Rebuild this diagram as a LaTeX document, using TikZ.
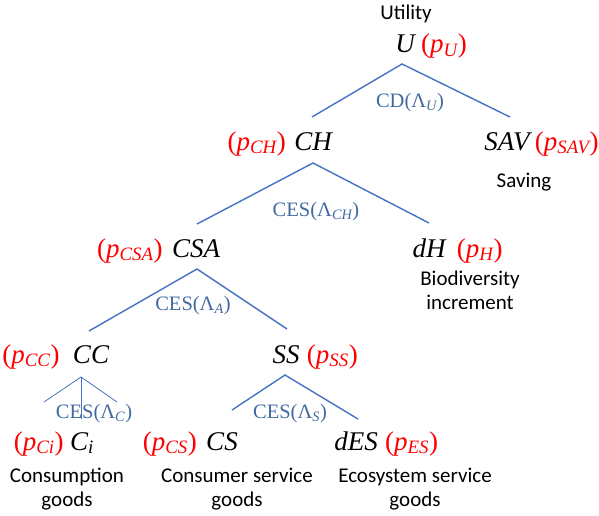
\documentclass[tikz,border=0pt]{standalone}
\usepackage{fontspec}
\setmainfont{Liberation Serif}
\newfontfamily\carlito{Carlito}
\usetikzlibrary{positioning}
\definecolor{cLine}{RGB}{68,114,196}
\definecolor{cFn}{RGB}{65,105,160}
\definecolor{cPrice}{RGB}{255,0,0}
\newcommand{\pvar}[1]{(\textit{p}\textsubscript{\itshape #1})}
\tikzset{
	var/.style   ={inner sep=0pt, font=\fontsize{27}{32}\selectfont\itshape},
	price/.style ={inner sep=0pt, text=cPrice, font=\fontsize{27}{32}\selectfont},
	fn/.style    ={inner sep=0pt, anchor=base, text=cFn, font=\fontsize{20.5}{24}\selectfont},
	lbl/.style   ={inner sep=0pt, anchor=base, align=center, font=\carlito\fontsize{21}{24}\selectfont},
	branch/.style={draw=cLine, line width=1.4pt},
	thinbranch/.style={draw=cLine, line width=0.8pt},
}
\begin{document}
\begin{tikzpicture}[x=1pt, y=-1pt]
	\useasboundingbox (0,0) rectangle (599,516);
	% top level
	\node[lbl] (util) at (406,20) {Utility};
	\node[var, anchor=base] (U) at (405,53) {U};
	\node[price, base right=6pt of U] (pU) {\pvar{U}};
	\coordinate (uTop) at (402,64);
	\coordinate (uL) at (312,117);
	\coordinate (uR) at (510,117);
	\draw[branch] (uL) -- (uTop) -- (uR);
	\node[fn] (fnU) at (410,107) {CD(Λ\textsubscript{\itshape U})};
	% second level
	\node[var, anchor=base] (CH) at (313,150) {CH};
	\node[price, base left=8pt of CH] (pCH) {\pvar{CH}};
	\node[var, anchor=base] (SAV) at (507,150) {SAV};
	\node[price, base right=5pt of SAV] (pSAV) {\pvar{SAV}};
	\node[lbl] (saving) at (524,187) {Saving};
	\coordinate (chTop) at (313,163);
	\coordinate (chL) at (197,224);
	\coordinate (chR) at (429,223);
	\draw[branch] (chL) -- (chTop) -- (chR);
	\node[fn] (fnCH) at (316,216) {CES(Λ\textsubscript{\itshape CH})};
	% third level
	\node[var, anchor=base] (CSA) at (196,257) {CSA};
	\node[price, base left=9pt of CSA] (pCSA) {\pvar{CSA}};
	\node[var, anchor=base] (dH) at (429,257) {dH};
	\node[price, base right=11pt of dH] (pH) {\pvar{H}};
	\node[lbl] (bio) at (470,309) {Biodiversity\\increment};
	\coordinate (csaTop) at (197,269);
	\coordinate (csaL) at (89,331);
	\coordinate (csaR) at (287,329);
	\draw[branch] (csaL) -- (csaTop) -- (csaR);
	\node[fn] (fnA) at (193,310) {CES(Λ\textsubscript{\itshape A})};
	% fourth level
	\node[var, anchor=base] (CC) at (91,363) {CC};
	\node[price, base left=13pt of CC] (pCC) {\pvar{CC}};
	\node[var, anchor=base] (SS) at (286,363) {SS};
	\node[price, base right=7pt of SS] (pSS) {\pvar{SS}};
	\coordinate (ccTop) at (81,377);
	\coordinate (ccL) at (44,402);
	\coordinate (ccR) at (117,402);
	\coordinate (ccM) at (81,419);
	\draw[thinbranch] (ccL) -- (ccTop) -- (ccR);
	\draw[thinbranch] (ccTop) -- (ccM);
	\node[fn] (fnC) at (94,418) {CES(Λ\textsubscript{\itshape C})};
	\coordinate (ssTop) at (285,375);
	\coordinate (ssL) at (232,410);
	\coordinate (ssR) at (358,419);
	\draw[branch] (ssL) -- (ssTop) -- (ssR);
	\node[fn] (fnS) at (290,418) {CES(Λ\textsubscript{\itshape S})};
	% bottom level
	\node[var, anchor=base] (Ci) at (82,450) {C\textsubscript{\itshape i}};
	\node[price, base left=6pt of Ci] (pCi) {\pvar{Ci}};
	\node[var, anchor=base] (CS) at (222,450) {CS};
	\node[price, base left=9pt of CS] (pCS) {\pvar{CS}};
	\node[var, anchor=base] (dES) at (356,450) {dES};
	\node[price, base right=7pt of dES] (pES) {\pvar{ES}};
	\node[lbl] (cgoods) at (67,506) {Consumption\\goods};
	\node[lbl] (sgoods) at (237,506) {Consumer service\\goods};
	\node[lbl] (egoods) at (415,506) {Ecosystem service\\goods};
\end{tikzpicture}
\end{document}
